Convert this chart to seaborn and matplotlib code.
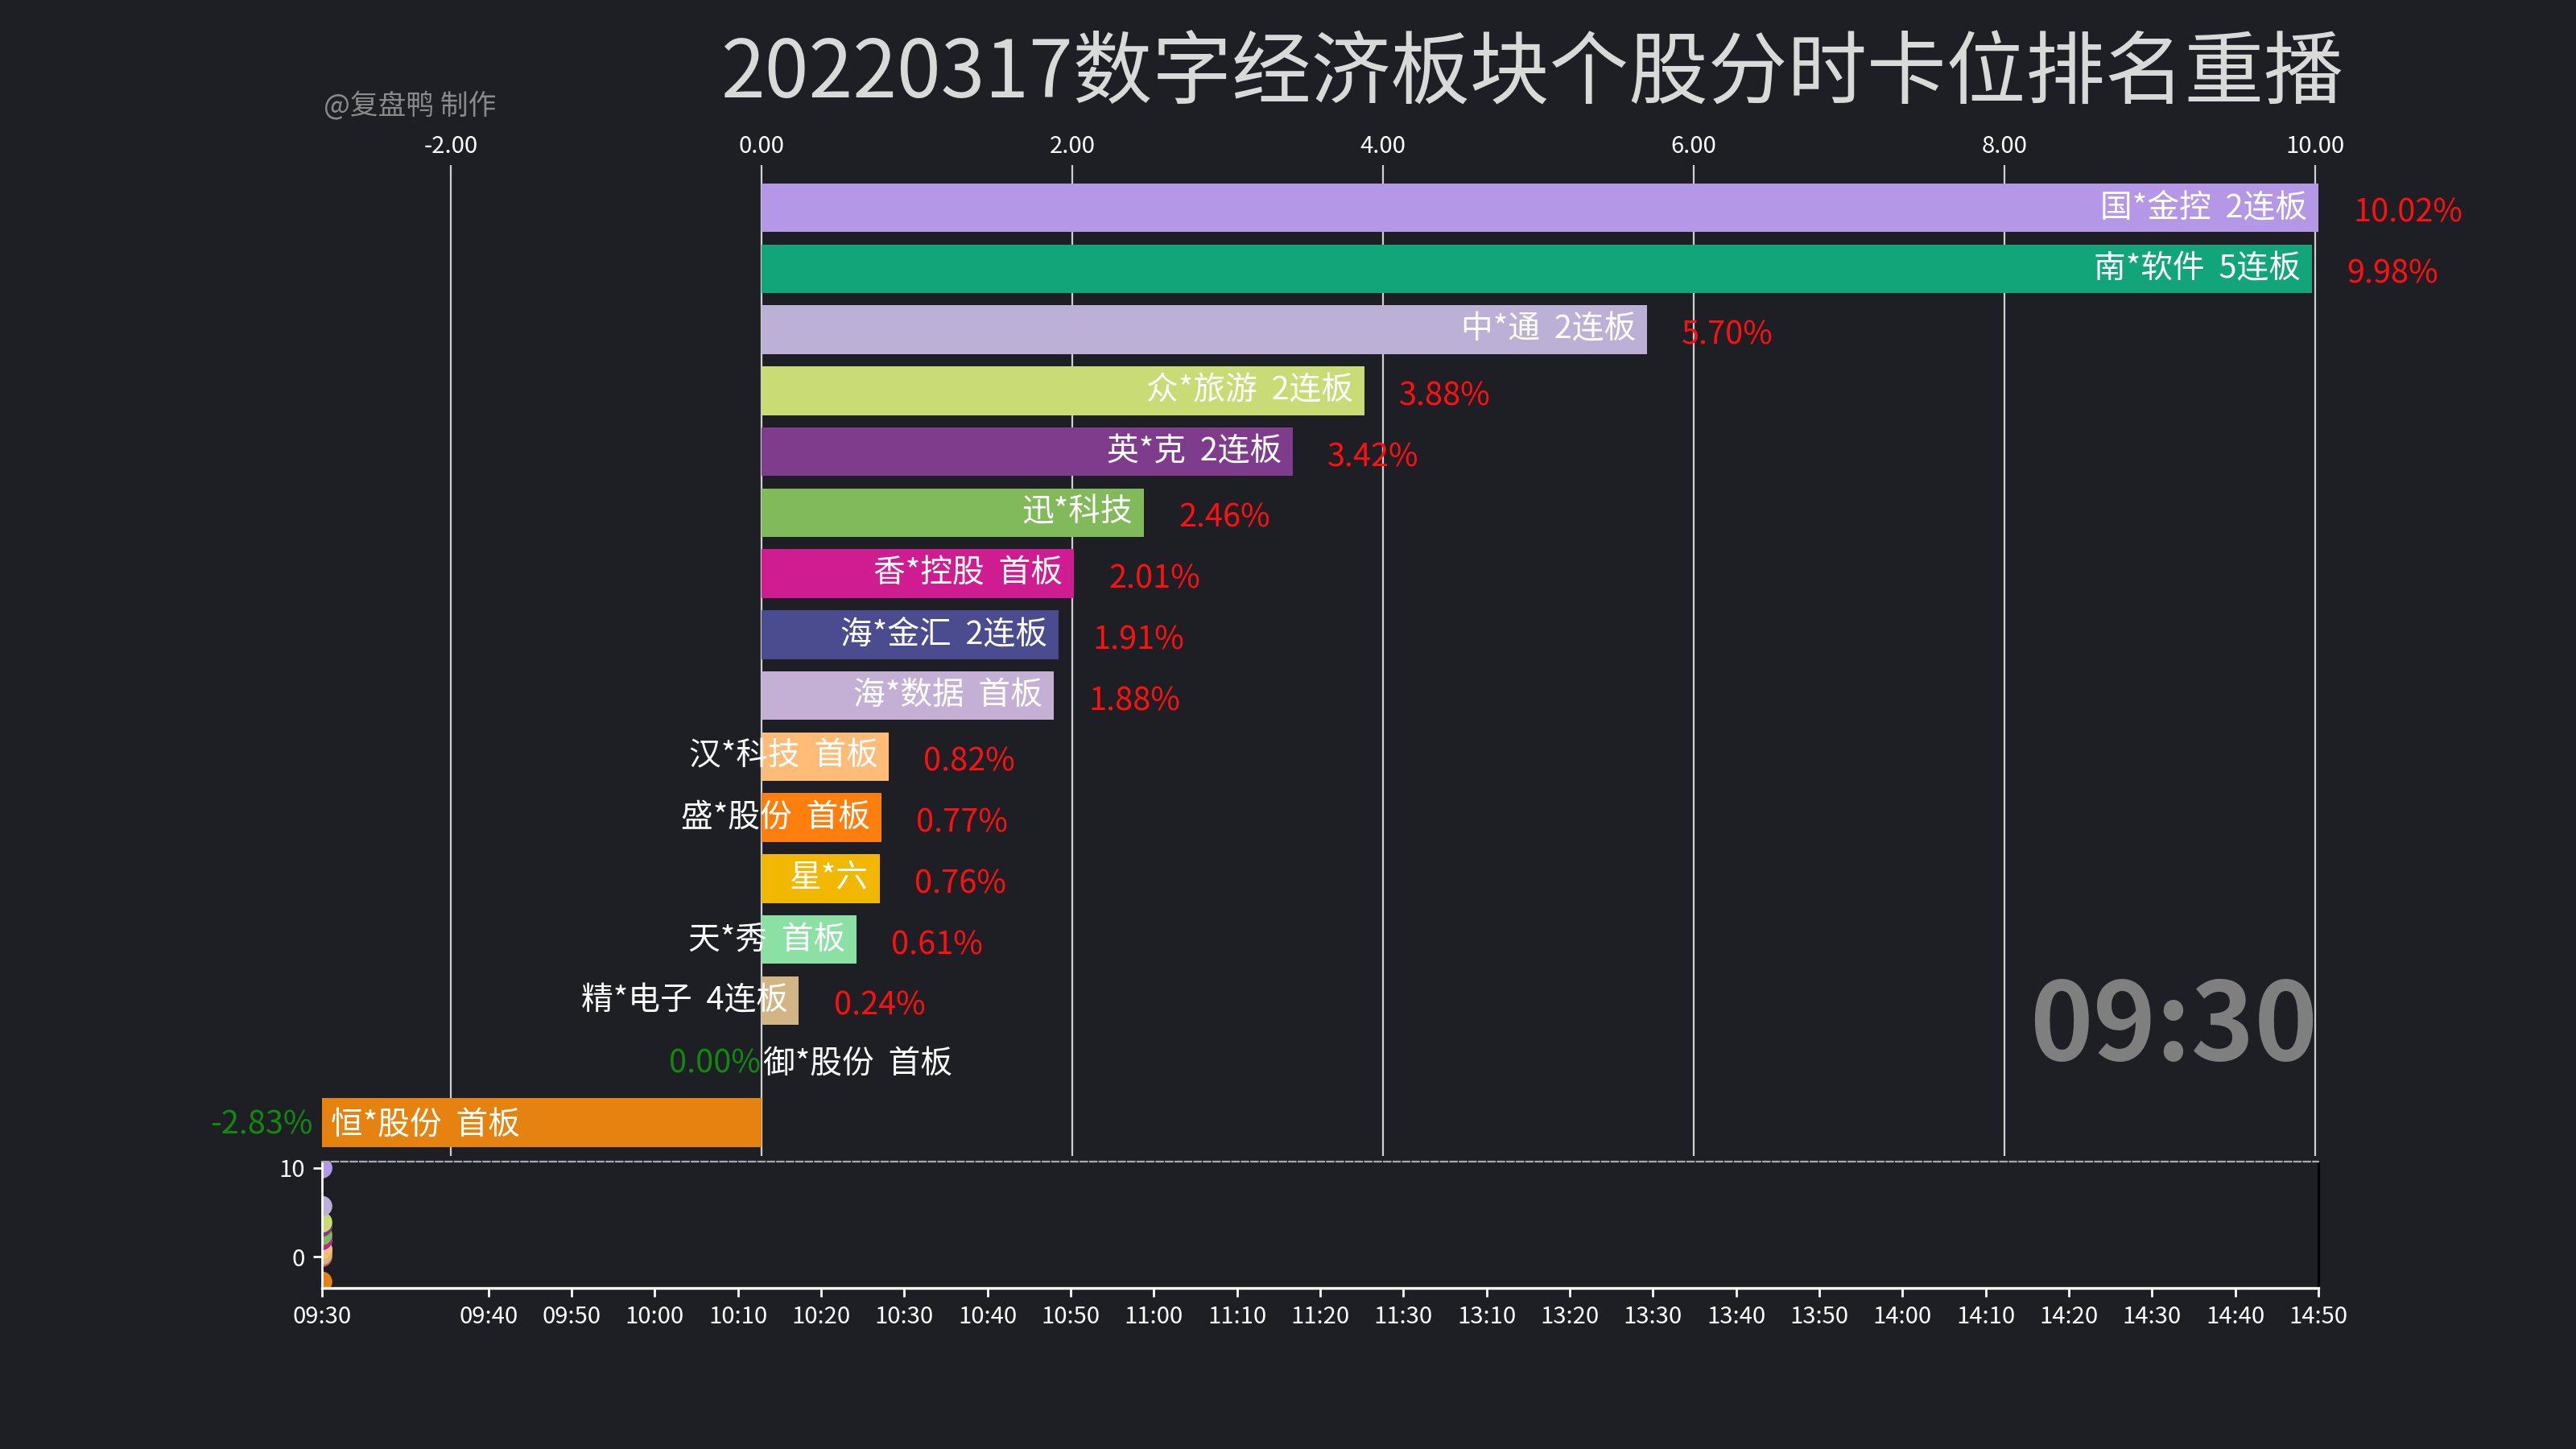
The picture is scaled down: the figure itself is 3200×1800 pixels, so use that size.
import seaborn as sns
import matplotlib.pyplot as plt
import pandas as pd

# data for the 09:30 frame
names = ['国*金控  2连板', '南*软件  5连板', '中*通  2连板', '众*旅游  2连板', '英*克  2连板',
         '迅*科技', '香*控股  首板', '海*金汇  2连板', '海*数据  首板', '汉*科技  首板',
         '盛*股份  首板', '星*六', '天*秀  首板', '精*电子  4连板', '御*股份  首板', '恒*股份  首板']
values = [10.02, 9.98, 5.70, 3.88, 3.42, 2.46, 2.01, 1.91, 1.88, 0.82,
          0.77, 0.76, 0.61, 0.24, 0.00, -2.83]
colors = ['#b497e7', '#11a579', '#bdb0d6', '#c9db74', '#7f3c8d', '#80ba5a', '#cf1c90', '#4b4b8f',
          '#c5b0d5', '#ffbb78', '#ff7f0e', '#f2b701', '#8be0a4', '#d3b484', '#e45756', '#e68310']
frame_time = '09:30'
time_labels = ['09:30', '09:40', '09:50', '10:00', '10:10', '10:20', '10:30', '10:40', '10:50',
               '11:00', '11:10', '11:20', '11:30', '13:10', '13:20', '13:30', '13:40', '13:50',
               '14:00', '14:10', '14:20', '14:30', '14:40', '14:50']
title = '20220317数字经济板块个股分时卡位排名重播'
credit = '@复盘鸭 制作'

bg = '#1e1f24'
sns.set_theme(style='dark')
plt.rcParams['font.family'] = ['Noto Sans CJK SC', 'DejaVu Sans']
plt.rcParams['axes.unicode_minus'] = False

df = pd.DataFrame({'name': names, 'value': values, 'color': colors})

fig = plt.figure(figsize=(16, 9), dpi=200, facecolor=bg)
ax = fig.add_axes([0.125, 0.2022, 0.775, 0.6839], facecolor=bg)

sns.barplot(data=df, x='value', y='name', hue='name', palette=colors, legend=False,
            orient='h', width=0.8, saturation=1, linewidth=0, ax=ax)
ax.set_xlim(min(values), max(values))
ax.set_ylim(15.55, -0.7)
ax.set_ylabel('')
ax.set_xlabel('')
ax.set_yticks([])
ax.xaxis.tick_top()
ax.set_xticks([-2, 0, 2, 4, 6, 8, 10])
ax.set_xticklabels(['%.2f' % t for t in [-2, 0, 2, 4, 6, 8, 10]])
ax.tick_params(axis='x', colors='white', labelsize=10.5, length=0, pad=3)
ax.grid(axis='x', color='#cfcfcf', linewidth=0.8)
ax.grid(axis='y', visible=False)
ax.set_axisbelow(True)
for s in ax.spines.values():
    s.set_visible(False)

for i, (n, v) in enumerate(zip(names, values)):
    vtxt = '%.2f%%' % v
    if v > 0:
        ax.annotate(n, (v, i), xytext=(-5, 0), textcoords='offset points',
                    ha='right', va='center', color='white', fontsize=14.3)
        ax.annotate(vtxt, (v, i), xytext=(15.5, -2.5), textcoords='offset points',
                    ha='left', va='center', color='#ff1010', fontsize=14.3)
    else:
        pad = 4 if v < 0 else 0.5
        ax.annotate(n, (v, i), xytext=(pad, -1), textcoords='offset points',
                    ha='left', va='center', color='white', fontsize=14.3)
        ax.annotate(vtxt, (v, i), xytext=(-pad, -1), textcoords='offset points',
                    ha='right', va='center', color='#0f8a0f', fontsize=14.3)

ax.text(0.9995, 0.128, frame_time, transform=ax.transAxes, ha='right', va='center',
        color='#7f7f7f', fontsize=48, fontweight='bold')

# timeline panel
ax2 = fig.add_axes([0.125, 0.1111, 0.775, 0.0872], facecolor=bg)
tick_pos = [0] + list(range(20, 250, 10))
pts = pd.DataFrame({'t': [tick_pos[time_labels.index(frame_time)]] * len(values),
                    'value': values, 'name': names})
# lower ranks first so the leaders sit on top
pts = pts.iloc[::-1]
sns.scatterplot(data=pts, x='t', y='value', hue='name', hue_order=names, palette=colors,
                legend=False, s=85, linewidth=0, ax=ax2)
ax2.set_xlim(0, 240)
ax2.set_ylim(min(values) - 0.7, max(values) + 0.7)
ax2.set_xticks(tick_pos)
ax2.set_xticklabels(time_labels)
ax2.set_yticks([0, 10])
ax2.set_xlabel('')
ax2.set_ylabel('')
ax2.tick_params(colors='white', labelsize=10.5, length=4, width=1, bottom=True, left=True)
ax2.grid(False)
ax2.spines['left'].set_color('white')
ax2.spines['bottom'].set_color('white')
ax2.spines['left'].set_linewidth(1)
ax2.spines['bottom'].set_linewidth(1.2)
ax2.spines['top'].set_color('#aaaaaa')
ax2.spines['top'].set_linestyle('--')
ax2.spines['top'].set_linewidth(0.8)
ax2.spines['right'].set_color('black')
ax2.spines['right'].set_linewidth(1.2)

fig.text(0.5947, 0.948, title, ha='center', va='center', color='#d9d9d9', fontsize=35.5)
fig.text(0.1256, 0.927, credit, ha='left', va='center', color='#8a8a8a', fontsize=12.5)

fig.savefig('out.png', dpi=200, facecolor=bg)
